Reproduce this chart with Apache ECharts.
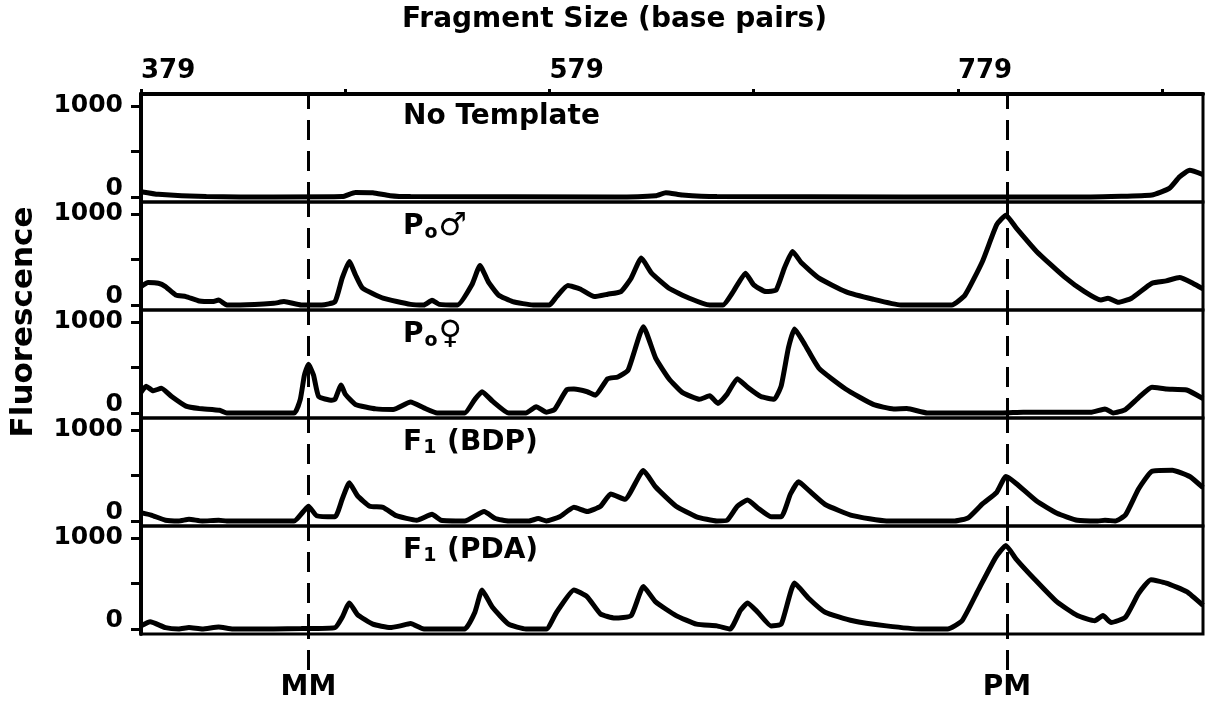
<!DOCTYPE html>
<html lang="en">
<head>
    <meta charset="UTF-8">
    <title>Fragment Size</title>
    <script src="https://cdn.jsdelivr.net/npm/echarts@6/dist/echarts.min.js"></script>
</head>
<body style="margin:0;background:#fff">
<div id="main" style="width: 1205px;height:703px;"></div>
<script type="text/javascript">
    // x axis: fragment size in base pairs
    var sizeMin = 379, sizeMax = 899;
    var sizeTicks = [379, 479, 579, 679, 779, 879];
    var sizeLabels = [379, 579, 779];
    // y axis: fluorescence
    var fluorTicks = [0, 500, 1000];
    var fluorLabels = [0, 1000];
    var markers = [{name: 'MM', bp: 461}, {name: 'PM', bp: 803}];

    var panelNames = [
        '{b|No Template}',
        '{b|P}{o|o}{s|♂}',
        '{b|P}{o|o}{s|♀}',
        '{b|F}{o|1}{b| (BDP)}',
        '{b|F}{o|1}{b| (PDA)}'
    ];

    var noTemplate = [[379,58],[387.5,29],[411,4],[444,0],[477.5,4],[484,50],[492.5,47],[501,14],[511,4],
        [611,0],[631,14],[636,47],[644,22],[661,4],[844,0],[874,22],[882.5,94],[887.5,221],[892.5,293],[899,246]];

    var poMale = [[379,202],[382.5,246],[387.5,239],[391,202],[396,110],[401,92],[407.5,44],[414,37],[417,55],
        [421,0],[427.5,0],[444,18],[449,37],[457.5,0],[467.5,0],[474,37],[477.5,294],[481,478],[484,331],
        [487.5,184],[497.5,74],[511,7],[517.5,0],[521.5,51],[525,7],[534,0],[541,221],[545,434],[549,257],
        [554,110],[561,37],[571,0],[579,0],[582.5,92],[588,213],[594,176],[601,92],[607.5,118],[614,147],
        [619,294],[624,515],[629,349],[637.5,184],[647.5,74],[657.5,0],[664,0],[669,147],[675,349],[679,221],
        [685,147],[690,165],[694,404],[698,588],[702.5,460],[711,294],[724,147],[737.5,63],[751,0],[761,0],
        [776,0],[782.5,110],[791,478],[798,882],[802.5,985],[807.5,846],[817.5,588],[831,312],[841,147],
        [849,55],[852.5,74],[857.5,29],[864,74],[874,239],[881,265],[887.5,301],[894,239],[899,176]];

    var poFemale = [[379,226],[381.5,293],[385,244],[389,271],[394,180],[401,75],[407.5,49],[417.5,30],
        [421,0],[454,0],[457,150],[459,414],[461,534],[463.5,414],[466,180],[472.5,139],[474,150],[477,308],
        [479,207],[484,94],[494,45],[502.5,38],[511,120],[517.5,56],[524,0],[537.5,0],[542.5,150],[546,233],
        [551,132],[559,0],[567.5,0],[572.5,68],[577.5,8],[581.5,38],[587.5,256],[591,263],[597.5,233],
        [601.5,195],[607.5,376],[612.5,395],[617.5,470],[625,947],[631,602],[637.5,376],[644,226],[652.5,150],
        [657.5,188],[661.5,105],[666,207],[671,376],[676,282],[682.5,180],[689,150],[692.5,301],[696,714],
        [699,921],[704,752],[711,489],[724,263],[737.5,94],[747.5,45],[754,49],[764,0],[801,0],[811,8],
        [844,8],[851,45],[855,0],[861,38],[867.5,169],[874,282],[881,263],[891,252],[899,158]];

    var f1Bdp = [[379,92],[384,65],[391,8],[397.5,0],[402.5,19],[409,0],[417,8],[421,0],[454,0],[458.5,104],
        [461,162],[465,58],[474,46],[477.5,238],[481,419],[485,277],[491,162],[497.5,150],[504,58],[514,8],
        [521.5,73],[526,8],[537.5,0],[547,104],[552.5,27],[559,0],[569,0],[573.5,27],[577.5,0],[584,46],
        [591,150],[597.5,104],[604,162],[609,296],[616,238],[625,554],[631,373],[641,162],[651,46],[661,0],
        [666,8],[671,162],[676,231],[681,142],[687.5,46],[692.5,46],[697,296],[701,431],[706,335],[714,181],
        [727.5,58],[744,0],[777.5,0],[784,35],[791,188],[798,315],[802.5,488],[807.5,412],[817.5,219],
        [827.5,85],[837.5,8],[847.5,0],[851,8],[856,0],[861,65],[867.5,354],[874,546],[884,558],[892.5,488],[899,365]];

    var f1Pda = [[379,34],[383.5,79],[391,15],[397.5,0],[402.5,15],[409,0],[417,23],[424,0],[444,0],[457.5,4],
        [474,15],[477.5,128],[481,286],[485,158],[492.5,53],[501,15],[506,34],[511,60],[517.5,0],[537.5,0],
        [542.5,184],[546,429],[551,241],[559,53],[567.5,0],[577.5,0],[582.5,184],[591,429],[597.5,353],
        [604,165],[611,120],[619,147],[625,466],[631,297],[641,147],[651,53],[661,34],[667.5,0],[672.5,203],
        [676,286],[681,184],[687.5,34],[692.5,53],[699,504],[706,335],[714,184],[727.5,90],[744,34],[761,0],
        [774,0],[781,90],[789,429],[797.5,786],[802.5,917],[807.5,767],[817.5,523],[827.5,297],[837.5,147],
        [846,90],[850,147],[854,71],[861,128],[867.5,391],[873.5,541],[881,504],[891,410],[899,259]];

    var panels = [noTemplate, poMale, poFemale, f1Bdp, f1Pda];

    var font = 'DejaVu Sans';
    var panelTop = 94, panelH = 108;
    var grids = [], xAxes = [], yAxes = [], series = [], titles = [];

    titles.push({
        text: 'Fragment Size (base pairs)',
        left: 402, top: 6, padding: 0,
        textStyle: {fontFamily: font, fontWeight: 'bold', fontSize: 28, color: '#000'}
    });

    panels.forEach(function (data, i) {
        grids.push({
            left: 141, right: 2, top: panelTop + panelH * i, height: panelH,
            show: true, borderColor: '#000', borderWidth: 3, backgroundColor: 'transparent'
        });
        var x = {
            type: 'value', gridIndex: i, min: sizeMin, max: sizeMax,
            splitLine: {show: false}, show: i === 0
        };
        if (i === 0) {
            x.position = 'top';
            x.axisLine = {onZero: false, lineStyle: {color: '#000', width: 4}};
            x.axisTick = {customValues: sizeTicks, length: 5, lineStyle: {color: '#000', width: 3}};
            x.axisLabel = {
                customValues: sizeLabels, align: 'left', margin: 10,
                fontFamily: font, fontWeight: 'bold', fontSize: 26, color: '#000'
            };
        }
        xAxes.push(x);
        yAxes.push({
            type: 'value', gridIndex: i, min: -55, max: 1130,
            splitLine: {show: false},
            axisLine: {show: true, lineStyle: {color: '#000', width: 4}},
            axisTick: {show: true, customValues: fluorTicks, length: 10, lineStyle: {color: '#000', width: 3}},
            axisLabel: {
                customValues: fluorLabels, margin: 18,
                fontFamily: font, fontWeight: 'bold', fontSize: 25, color: '#000',
                formatter: function (v) { return v === 0 ? '{z|0}' : String(v); },
                rich: {z: {fontFamily: font, fontWeight: 'bold', fontSize: 25, color: '#000', padding: [0, 0, 16, 0]}}
            }
        });
        series.push({
            type: 'line', xAxisIndex: i, yAxisIndex: i, data: data,
            showSymbol: false, smooth: 0.15,
            lineStyle: {color: '#000', width: 5},
            markLine: {
                silent: true, symbol: 'none', animation: false,
                label: {show: false},
                lineStyle: {color: '#000', width: 3, type: [20, 11]},
                data: markers.map(function (m) { return {xAxis: m.bp}; })
            }
        });
        titles.push({
            text: panelNames[i], left: 403, top: panelTop + panelH * i + 9, padding: 0,
            textStyle: {
                rich: {
                    b: {fontFamily: font, fontWeight: 'bold', fontSize: 28, color: '#000'},
                    o: {fontFamily: font, fontWeight: 'bold', fontSize: 19, color: '#000', verticalAlign: 'bottom', padding: [12, 1, 0, 1]},
                    s: {fontFamily: font, fontWeight: 'bold', fontSize: 32, color: '#000'}
                }
            }
        });
    });

    // strip under the last panel that carries the marker lines down to their labels
    grids.push({left: 141, right: 2, top: panelTop + panelH * 5, height: 36});
    xAxes.push({type: 'value', gridIndex: 5, min: sizeMin, max: sizeMax, show: false});
    yAxes.push({type: 'value', gridIndex: 5, min: 0, max: 1, show: false});
    series.push({
        type: 'line', xAxisIndex: 5, yAxisIndex: 5, data: [],
        markLine: {
            silent: true, symbol: 'none', animation: false,
            lineStyle: {color: '#000', width: 3, type: [20, 11]},
            label: {
                show: true, position: 'start', distance: 4,
                fontFamily: font, fontWeight: 'bold', fontSize: 28, color: '#000',
                formatter: function (p) { return p.name; }
            },
            data: markers.map(function (m) { return {name: m.name, xAxis: m.bp}; })
        }
    });

    var myChart = echarts.init(document.getElementById('main'));
    myChart.setOption({
        animation: false,
        backgroundColor: '#fff',
        title: titles,
        grid: grids,
        xAxis: xAxes,
        yAxis: yAxes,
        series: series,
        graphic: [{
            type: 'text', x: 24, y: 322, rotation: Math.PI / 2,
            style: {
                text: 'Fluorescence', fill: '#000',
                font: 'bold 31px "DejaVu Sans"',
                textAlign: 'center', textVerticalAlign: 'middle'
            }
        }]
    });
</script>
</body>
</html>
